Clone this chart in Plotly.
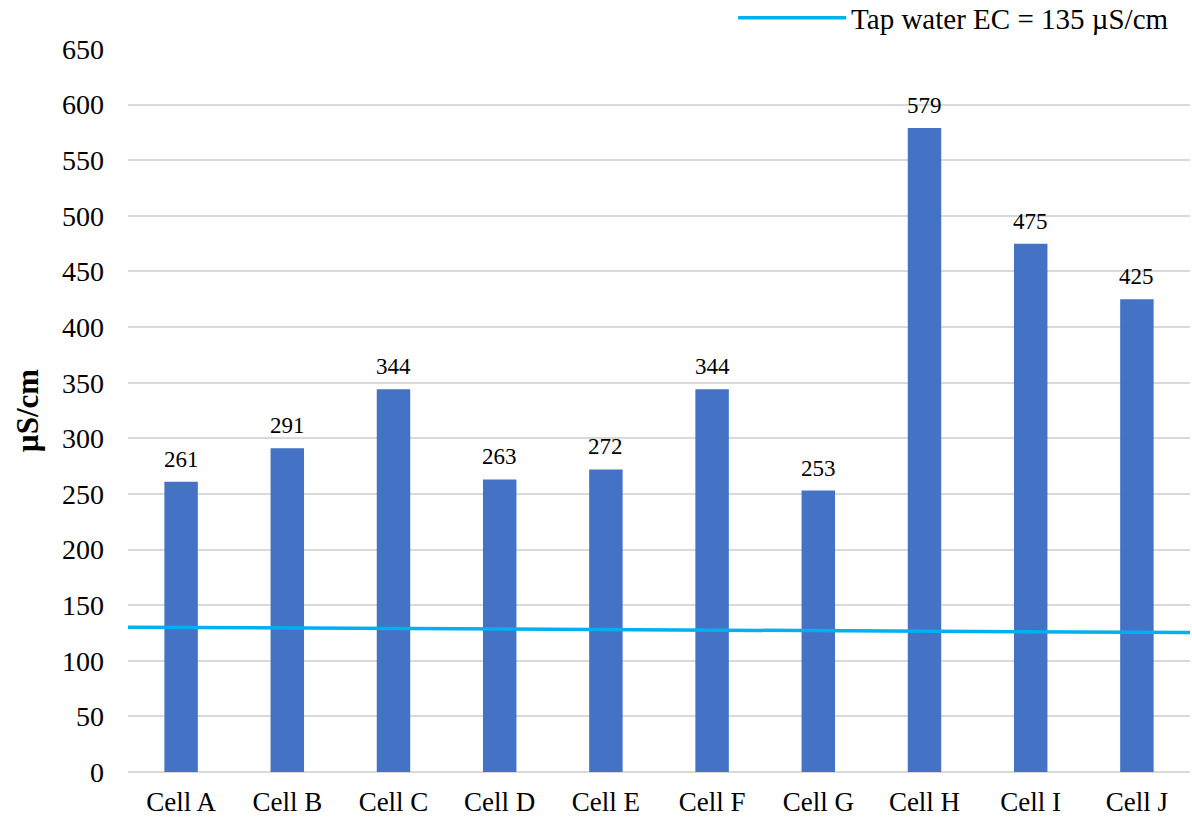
import plotly.graph_objects as go

# Electrical conductivity measured in each cell
cells = ["Cell A", "Cell B", "Cell C", "Cell D", "Cell E",
         "Cell F", "Cell G", "Cell H", "Cell I", "Cell J"]
ec_values = [261, 291, 344, 263, 272, 344, 253, 579, 475, 425]

# Tap water reference line, spanning the full width of the plot
tap_x = [0, 1]
tap_y = [130.2, 125.4]
tap_label = "Tap water EC = 135 µS/cm"

y_ticks = list(range(0, 651, 50))

FONT = "Liberation Serif"
BAR_COLOR = "#4472C4"
LINE_COLOR = "#00B0F0"
GRID_COLOR = "#D9D9D9"

fig = go.Figure()

fig.add_trace(go.Bar(
    x=cells,
    y=ec_values,
    marker=dict(color=BAR_COLOR, line=dict(width=0)),
    showlegend=False,
    hoverinfo="x+y",
))

fig.add_trace(go.Scatter(
    x=tap_x,
    y=tap_y,
    mode="lines",
    line=dict(color=LINE_COLOR, width=3.5),
    name=tap_label,
    xaxis="x2",
    showlegend=True,
))

# Value labels above each bar
for c, v in zip(cells, ec_values):
    fig.add_annotation(
        x=c, y=v, text=str(v), showarrow=False,
        xref="x", yref="y", yanchor="bottom", yshift=8,
        font=dict(family=FONT, size=23, color="#000000"),
    )

fig.update_layout(
    width=1192,
    height=818,
    margin=dict(l=128, r=2, t=49, b=46, autoexpand=False),
    paper_bgcolor="white",
    plot_bgcolor="white",
    bargap=0.685,
    font=dict(family=FONT, size=27, color="#000000"),
    xaxis=dict(
        type="category",
        showgrid=False,
        showline=False,
        ticks="",
        tickfont=dict(family=FONT, size=27, color="#000000"),
        ticklabelstandoff=11,
    ),
    xaxis2=dict(
        overlaying="x",
        range=[0, 1],
        visible=False,
    ),
    yaxis=dict(
        range=[0, 650],
        tickvals=y_ticks,
        showgrid=True,
        gridcolor=GRID_COLOR,
        gridwidth=1.5,
        zeroline=True,
        zerolinecolor=GRID_COLOR,
        zerolinewidth=1.5,
        showline=False,
        ticks="",
        tickfont=dict(family=FONT, size=28, color="#000000"),
        ticklabelstandoff=23,
        title=dict(
            text="<b>µS/cm</b>",
            font=dict(family=FONT, size=31, color="#000000"),
            standoff=14,
        ),
    ),
    legend=dict(
        xref="container", x=0.985, xanchor="right",
        yref="container", y=0.978, yanchor="middle",
        orientation="h",
        bgcolor="rgba(0,0,0,0)",
        font=dict(family=FONT, size=29, color="#000000"),
        itemwidth=108,
    ),
)

fig.write_html("out.html")
